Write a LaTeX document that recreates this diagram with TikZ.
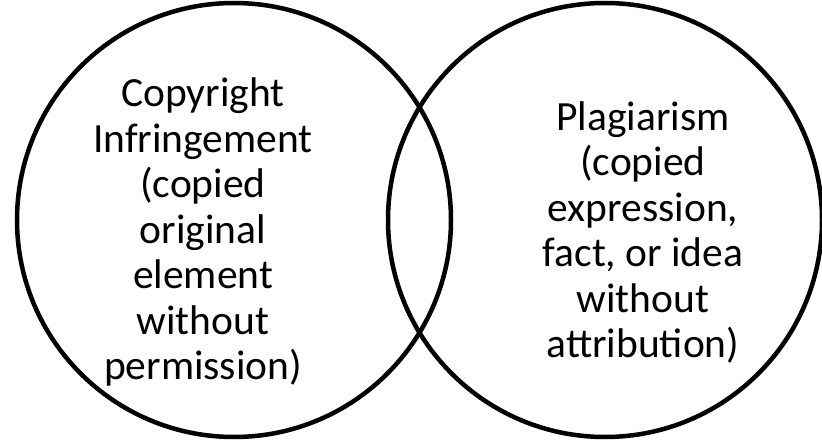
\documentclass[tikz,border=0pt]{standalone}
\usepackage{fontspec}
\setmainfont{Carlito}
\begin{document}
\begin{tikzpicture}[x=1pt,y=-1pt,
  ring/.style={circle, draw=black, line width=4.5pt, minimum size=434pt, inner sep=0pt},
  label/.style={align=center, font=\fontsize{41.5}{45.5}\selectfont, inner sep=0pt}]
\useasboundingbox (0,0) rectangle (822,441);
\node[ring] (L) at (234,220) {};
\node[ring] (R) at (605,220) {};
\node[label] (lt) at (203,232) {Copyright\\Infringement\\(copied\\original\\element\\without\\permission)};
\node[label] (rt) at (643,232.5) {Plagiarism\\(copied\\expression,\\fact, or idea\\without\\attribution)};
\end{tikzpicture}
\end{document}
